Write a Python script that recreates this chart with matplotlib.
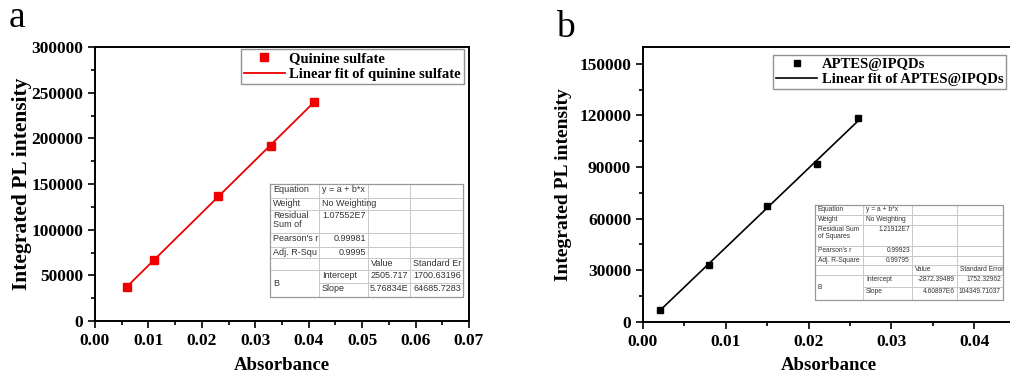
import matplotlib
matplotlib.use('Agg')
import matplotlib.pyplot as plt
import numpy as np
from matplotlib.ticker import MultipleLocator

# data
abs_a = [0.006, 0.011, 0.023, 0.033, 0.041]
pl_a = [37000, 67000, 137000, 192000, 240000]
abs_b = [0.002, 0.008, 0.015, 0.021, 0.026]
pl_b = [7000, 33000, 67500, 91500, 118500]

label_a = 'Quinine sulfate'
fit_label_a = 'Linear fit of quinine sulfate'
label_b = 'APTES@IPQDs'
fit_label_b = 'Linear fit of APTES@IPQDs'

# fit report tables (text as printed)
table_a = [["Equation", "y = a + b*x", "", ""],
           ["Weight", "No Weighting", "", ""],
           ["Residual\nSum of", "1.07552E7", "", ""],
           ["Pearson's r", "0.99981", "", ""],
           ["Adj. R-Squ", "0.9995", "", ""],
           ["", "", "Value", "Standard Er"],
           ["B", "Intercept", "2505.717", "1700.63196"],
           ["", "Slope", "5.76834E", "64685.7283"]]
table_b = [["Equation", "y = a + b*x", "", ""],
           ["Weight", "No Weighting", "", ""],
           ["Residual Sum\nof Squares", "1.21912E7", "", ""],
           ["Pearson's r", "0.99923", "", ""],
           ["Adj. R-Square", "0.99795", "", ""],
           ["", "", "Value", "Standard Error"],
           ["B", "Intercept", "-2872.39489", "1752.32962"],
           ["", "Slope", "4.60897E6", "104349.71037"]]

W, H = 1010, 378
fig = plt.figure(figsize=(W / 100, H / 100), dpi=100)
serif = 'Liberation Serif'


def style_axes(ax):
    for s in ax.spines.values():
        s.set_linewidth(1.4)
    ax.tick_params(which='both', direction='out', top=False, right=False, width=1.2)
    ax.tick_params(which='major', length=5)
    ax.tick_params(which='minor', length=3)
    for lab in ax.get_xticklabels() + ax.get_yticklabels():
        lab.set_fontfamily(serif)
        lab.set_fontweight('bold')
        lab.set_fontsize(12.5)


def draw_table(ov, rows, cols, ys, fs):
    x0, x1 = cols[0], cols[-1]
    y0, y1 = ys[0], ys[-1]
    # grid lines
    for i, y in enumerate(ys[1:-1], start=1):
        xs = cols[1] if i == 7 else x0
        ov.plot([xs, x1], [y, y], color='#c8c8c8', lw=0.7)
    for x in cols[1:-1]:
        ov.plot([x, x], [y0, y1], color='#c8c8c8', lw=0.7)
    ov.plot([x0, x1, x1, x0, x0], [y0, y0, y1, y1, y0], color='#999999', lw=0.9)
    for r, row in enumerate(rows):
        for c, txt in enumerate(row):
            if not txt:
                continue
            top = ys[r]
            if r == 6 and c == 0:
                ov.text(x0 + 3, (ys[6] + ys[8]) / 2, txt, fontsize=fs, va='center',
                        family='Liberation Sans', color='#333333')
                continue
            numeric = c >= 1 and (txt[0].isdigit() or txt[0] == '-') and not (r == 0)
            if numeric:
                ov.text(cols[c + 1] - 2, top + 1, txt, fontsize=fs, va='top', ha='right',
                        family='Liberation Sans', color='#333333', linespacing=1.0)
            else:
                ov.text(cols[c] + 3, top + 1, txt, fontsize=fs, va='top', ha='left',
                        family='Liberation Sans', color='#333333', linespacing=1.0)


# ---- panel a ----
ax1 = fig.add_axes([95 / W, 1 - 321 / H, 374 / W, 274 / H])
ax1.plot(abs_a, pl_a, 's', color='#ee0000', ms=5.5, label=label_a, zorder=3)
k, b = np.polyfit(abs_a, pl_a, 1)
xf = np.array([min(abs_a), max(abs_a)])
ax1.plot(xf, k * xf + b, '-', color='#ee0000', lw=1.3, label=fit_label_a)
ax1.set_xlim(0, 0.07)
ax1.set_ylim(0, 300000)
ax1.xaxis.set_major_locator(MultipleLocator(0.01))
ax1.xaxis.set_minor_locator(MultipleLocator(0.005))
ax1.yaxis.set_major_locator(MultipleLocator(50000))
ax1.yaxis.set_minor_locator(MultipleLocator(25000))
ax1.xaxis.set_major_formatter(plt.FuncFormatter(lambda v, p: '%.2f' % v))
ax1.set_xlabel('Absorbance', fontfamily=serif, fontweight='bold', fontsize=13.5)
ax1.set_ylabel('Integrated PL intensity', fontfamily=serif, fontweight='bold', fontsize=15.5)
ax1.yaxis.set_label_coords(-0.168, 0.5)
ax1.xaxis.set_label_coords(0.5, -0.13)
style_axes(ax1)
leg = ax1.legend(loc='upper right', bbox_to_anchor=(0.986, 0.992), borderaxespad=0,
                 prop={'family': serif, 'weight': 'bold', 'size': 10.5},
                 fancybox=False, edgecolor='#777777', handlelength=2.8,
                 handletextpad=0.3, borderpad=0.2, labelspacing=0.15)
leg.get_frame().set_linewidth(1.0)

# ---- panel b ----
bw = 0.045 * 8283
ax2 = fig.add_axes([643 / W, 1 - 321.7 / H, bw / W, 275 / H])
ax2.plot(abs_b, pl_b, 's', color='black', ms=5, label=label_b, zorder=3)
k2, b2 = np.polyfit(abs_b, pl_b, 1)
xf2 = np.array([min(abs_b), max(abs_b)])
ax2.plot(xf2, k2 * xf2 + b2, '-', color='black', lw=1.2, label=fit_label_b)
ax2.set_xlim(0, 0.045)
ax2.set_ylim(0, 160000)
ax2.xaxis.set_major_locator(MultipleLocator(0.01))
ax2.xaxis.set_minor_locator(MultipleLocator(0.005))
ax2.yaxis.set_major_locator(MultipleLocator(30000))
ax2.yaxis.set_minor_locator(MultipleLocator(15000))
ax2.xaxis.set_major_formatter(plt.FuncFormatter(lambda v, p: '%.2f' % v))
ax2.set_xlabel('Absorbance', fontfamily=serif, fontweight='bold', fontsize=13.5)
ax2.set_ylabel('Integrated PL intensity', fontfamily=serif, fontweight='bold', fontsize=14)
ax2.yaxis.set_label_coords(-0.19, 0.5)
ax2.xaxis.set_label_coords(0.5, -0.13)
style_axes(ax2)
leg2 = ax2.legend(loc='upper right', bbox_to_anchor=(0.974, 0.970), borderaxespad=0,
                  prop={'family': serif, 'weight': 'bold', 'size': 10.5},
                  fancybox=False, edgecolor='#777777', handlelength=2.8,
                  handletextpad=0.3, borderpad=0.2, labelspacing=0.15)
leg2.get_frame().set_linewidth(1.0)

# ---- overlay for tables and panel letters ----
ov = fig.add_axes([0, 0, 1, 1], zorder=10)
ov.set_xlim(0, W)
ov.set_ylim(H, 0)
ov.axis('off')
ov.patch.set_alpha(0)

draw_table(ov, table_a, [270, 319, 368, 410, 463],
           [184, 198, 210, 233, 247, 258, 270, 283, 297], 6.5)
draw_table(ov, table_b, [815, 863, 912, 957, 1003],
           [205, 215, 225, 246, 256, 265, 275, 287, 300], 4.8)

ov.text(9, 27, 'a', fontsize=27, family=serif, va='baseline')
ov.text(556, 37, 'b', fontsize=27, family=serif, va='baseline')

fig.savefig('out.png', dpi=100)
